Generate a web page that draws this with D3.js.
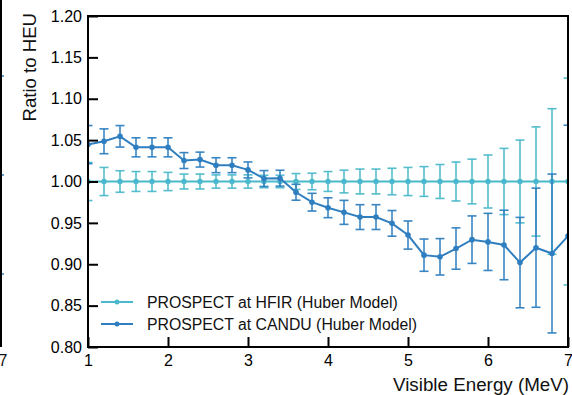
<!DOCTYPE html>
<html>
<head>
<meta charset="utf-8">
<script src="https://cdn.jsdelivr.net/npm/d3@7"></script>
<style>
  html, body { margin: 0; padding: 0; background: #fff; }
  svg { display: block; font-family: "Liberation Sans", Arial, Helvetica, sans-serif; }
</style>
</head>
<body>
<svg id="chart" width="572" height="395"></svg>
<script>
// Visible-energy bin centres (MeV)
const energy = [1.0, 1.2, 1.4, 1.6, 1.8, 2.0, 2.2, 2.4, 2.6, 2.8, 3.0, 3.2, 3.4, 3.6, 3.8, 4.0,
                4.2, 4.4, 4.6, 4.8, 5.0, 5.2, 5.4, 5.6, 5.8, 6.0, 6.2, 6.4, 6.6, 6.8, 7.0];

// PROSPECT at HFIR (Huber model): ratio to HEU and its uncertainty
const hfirRatio = [1.0, 1.0, 1.0, 1.0, 1.0, 1.0, 1.0, 1.0, 1.0, 1.0, 1.0, 1.0, 1.0, 1.0, 1.0, 1.0,
                   1.0, 1.0, 1.0, 1.0, 1.0, 1.0, 1.0, 1.0, 1.0, 1.0, 1.0, 1.0, 1.0, 1.0, 1.0];
const hfirErr = [0.023, 0.017, 0.013, 0.012, 0.012, 0.011, 0.009, 0.009, 0.008, 0.008, 0.008,
                 0.0075, 0.0075, 0.0096, 0.010, 0.012, 0.0137, 0.015, 0.015, 0.016, 0.017,
                 0.018, 0.0205, 0.0235, 0.027, 0.032, 0.040, 0.050, 0.066, 0.088, 0.125];

// PROSPECT at CANDU (Huber model): ratio to HEU and its uncertainty
const canduRatio = [1.0446, 1.0486, 1.0546, 1.0413, 1.0413, 1.0413, 1.0253, 1.0265, 1.0197, 1.0197,
                    1.014, 1.0036, 1.004, 0.987, 0.975, 0.9683, 0.9627, 0.957, 0.957, 0.9494,
                    0.9353, 0.911, 0.909, 0.919, 0.9297, 0.927, 0.9233, 0.902, 0.920, 0.913, 0.934];
const canduErr = [0.023, 0.015, 0.013, 0.0115, 0.0115, 0.0115, 0.0096, 0.009, 0.009, 0.009,
                  0.0096, 0.0096, 0.0096, 0.0096, 0.0107, 0.012, 0.0145, 0.015, 0.015, 0.0155,
                  0.017, 0.0195, 0.022, 0.025, 0.0287, 0.0345, 0.042, 0.0546, 0.072, 0.096, 0.134];

const xTicks = [1, 2, 3, 4, 5, 6, 7];
const yTicks = [0.80, 0.85, 0.90, 0.95, 1.00, 1.05, 1.10, 1.15, 1.20];

const seriesNames = ["PROSPECT at HFIR (Huber Model)", "PROSPECT at CANDU (Huber Model)"];
const seriesColors = ["#4bb9cb", "#2f7fc0"];

const series = [
  { name: seriesNames[0], color: seriesColors[0],
    points: energy.map((e, i) => ({ x: e, y: hfirRatio[i], err: hfirErr[i] })) },
  { name: seriesNames[1], color: seriesColors[1],
    points: energy.map((e, i) => ({ x: e, y: canduRatio[i], err: canduErr[i] })) }
];

const svg = d3.select("#chart");
const W = 572, H = 395;
const plot = { left: 88, right: 568, top: 16, bottom: 347 };

const x = d3.scaleLinear().domain([1, 7]).range([plot.left, plot.right]);
const y = d3.scaleLinear().domain([0.80, 1.20]).range([plot.bottom, plot.top]);

svg.append("rect").attr("width", W).attr("height", H).attr("fill", "#fff");

// Edge of the neighbouring panel on the left
const side = svg.append("g");
side.append("line").attr("x1", 1).attr("x2", 1).attr("y1", 0).attr("y2", 347)
  .attr("stroke", "#000").attr("stroke-width", 2);
[76, 175, 274].forEach(v => side.append("line")
  .attr("x1", 2).attr("x2", 4).attr("y1", v).attr("y2", v)
  .attr("stroke", seriesColors[1]).attr("stroke-width", 1.5));
side.append("text").attr("x", 3).attr("y", 366).attr("text-anchor", "middle")
  .attr("font-size", 16).attr("fill", "#111").text("7");

// Clip data to the frame
svg.append("defs").append("clipPath").attr("id", "plotClip")
  .append("rect").attr("x", plot.left).attr("y", plot.top)
  .attr("width", plot.right - plot.left).attr("height", plot.bottom - plot.top);

const dataG = svg.append("g").attr("clip-path", "url(#plotClip)");
const capHalf = 4.5;

series.forEach(s => {
  const g = dataG.append("g");
  // error bars
  const eb = g.selectAll("g.eb").data(s.points).enter().append("g")
    .attr("stroke", s.color).attr("stroke-width", 1.6).attr("stroke-opacity", 0.95);
  eb.append("line")
    .attr("x1", d => x(d.x)).attr("x2", d => x(d.x))
    .attr("y1", d => y(d.y + d.err)).attr("y2", d => y(d.y - d.err));
  eb.append("line")
    .attr("x1", d => x(d.x) - capHalf).attr("x2", d => x(d.x) + capHalf)
    .attr("y1", d => y(d.y + d.err)).attr("y2", d => y(d.y + d.err));
  eb.append("line")
    .attr("x1", d => x(d.x) - capHalf).attr("x2", d => x(d.x) + capHalf)
    .attr("y1", d => y(d.y - d.err)).attr("y2", d => y(d.y - d.err));
  // connecting line
  g.append("path").datum(s.points)
    .attr("fill", "none").attr("stroke", s.color).attr("stroke-width", 2)
    .attr("d", d3.line().x(d => x(d.x)).y(d => y(d.y)));
  // markers
  g.selectAll("circle").data(s.points).enter().append("circle")
    .attr("cx", d => x(d.x)).attr("cy", d => y(d.y)).attr("r", 2.8)
    .attr("fill", s.color);
});

// Axes with inward ticks
const yAxis = d3.axisLeft(y).tickValues(yTicks).tickFormat(d3.format(".2f"))
  .tickSizeInner(-10).tickSizeOuter(0).tickPadding(6);
const xAxis = d3.axisBottom(x).tickValues(xTicks).tickFormat(d3.format("d"))
  .tickSizeInner(-10).tickSizeOuter(0).tickPadding(8);

const yG = svg.append("g").attr("transform", `translate(${plot.left},0)`).call(yAxis);
const xG = svg.append("g").attr("transform", `translate(0,${plot.bottom})`).call(xAxis);
[yG, xG].forEach(g => {
  g.select(".domain").remove();
  g.selectAll(".tick line").attr("stroke", "#000").attr("stroke-width", 2);
  g.selectAll(".tick text").attr("fill", "#000").attr("font-size", 16)
    .attr("font-family", "'Liberation Sans', Arial, Helvetica, sans-serif");
});

// Frame
svg.append("rect")
  .attr("x", plot.left).attr("y", plot.top)
  .attr("width", plot.right - plot.left).attr("height", plot.bottom - plot.top)
  .attr("fill", "none").attr("stroke", "#000").attr("stroke-width", 2);

// Axis titles
svg.append("text")
  .attr("transform", "translate(36,13) rotate(-90)")
  .attr("text-anchor", "end").attr("font-size", 18.6).attr("fill", "#111")
  .text("Ratio to HEU");
svg.append("text")
  .attr("x", 393).attr("y", 391)
  .attr("font-size", 18.8).attr("fill", "#111")
  .text("Visible Energy (MeV)");

// Legend
const legend = svg.append("g");
series.forEach((s, i) => {
  const ly = 302 + i * 22;
  legend.append("line").attr("x1", 101).attr("x2", 133).attr("y1", ly).attr("y2", ly)
    .attr("stroke", s.color).attr("stroke-width", 2);
  legend.append("circle").attr("cx", 117).attr("cy", ly).attr("r", 2.5).attr("fill", s.color);
  legend.append("text").attr("x", 147).attr("y", ly).attr("dy", "0.36em")
    .attr("font-size", 15.8).attr("fill", "#111").text(s.name);
});
</script>
</body>
</html>
